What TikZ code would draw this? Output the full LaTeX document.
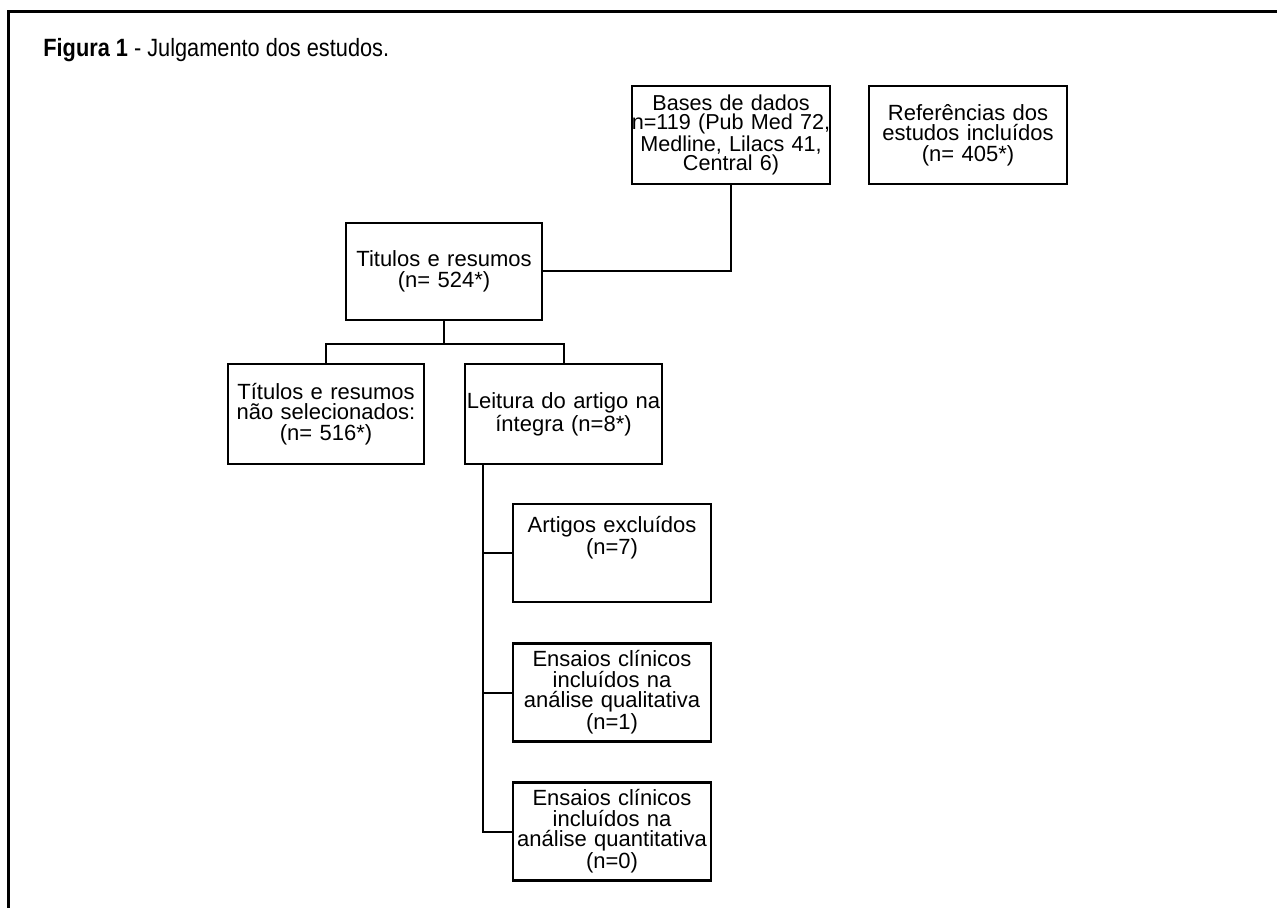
\documentclass[tikz,border=0pt]{standalone}
\usepackage{fontspec}
\setmainfont{Liberation Sans}
\newfontfamily\titlefont[FakeStretch=0.87]{Liberation Sans}
\usepackage{tikz}
\usetikzlibrary{shapes,arrows,positioning}
\newcommand{\flowfont}{\fontsize{11}{10.2}\selectfont}
\tikzstyle{frame} = [line width=1.5pt]
\tikzstyle{process} = [rectangle, draw, line width=1.4pt, text width=98pt, text centered, inner sep=0pt, minimum width=99pt, minimum height=49pt, font=\flowfont]
\tikzstyle{line} = [draw, line width=1pt]

\begin{document}
\begin{tikzpicture}[node distance=70pt, auto]
    \path [use as bounding box] (0,0) rectangle (638.5pt,-454pt);
    \draw [frame] (4.35pt,-454pt) -- (4.35pt,-5.65pt) -- (638.5pt,-5.65pt);
    \node [anchor=base west, inner sep=0pt] (title) at (21.5pt,-28.5pt) {\titlefont\fontsize{12.5}{15}\selectfont\textbf{Figura 1} - Julgamento dos estudos.};

    \node [process, font=\fontsize{10.8}{9.6}\selectfont, text width=104pt, inner xsep=-2.5pt] (bases) at (365.5pt,-67.5pt) {Bases de dados\\n=119 (Pub Med 72,\\Medline, Lilacs 41,\\Central 6)};
    \node [process, right of=bases, node distance=118.5pt] (refs) {Referências dos\\estudos incluídos\\(n= 405*)};
    \node [process, below of=bases, node distance=68.25pt, xshift=-143.5pt, minimum width=98pt, minimum height=48.5pt] (titulos) {Titulos e resumos\\(n= 524*)};
    \node [process, below of=titulos, node distance=71.25pt, xshift=-59pt, minimum width=98pt, minimum height=50pt] (naosel) {Títulos e resumos\\não selecionados:\\(n= 516*)};
    \node [process, below of=titulos, node distance=71.25pt, xshift=59.75pt, minimum width=98.5pt, minimum height=50pt] (leitura) {Leitura do artigo na\\íntegra (n=8*)};
    \node [process, below of=leitura, node distance=69.5pt, xshift=24.25pt, text height=8pt, text depth=29pt] (excl) {Artigos excluídos\\(n=7)};
    \node [process, below of=excl, node distance=69.75pt] (quali) {Ensaios clínicos\\incluídos na\\análise qualitativa\\(n=1)};
    \node [process, below of=quali, node distance=69.5pt] (quanti) {Ensaios clínicos\\incluídos na\\análise quantitativa\\(n=0)};

    \coordinate (trunk) at ([xshift=9.5pt]leitura.south west);

    \path [line] (bases.south) |- (titulos.east);
    \path [line] (titulos.south) -- ++(0,-11.25pt) -| (naosel.north);
    \path [line] (titulos.south) -- ++(0,-11.25pt) -| (leitura.north);
    \path [line] (trunk) |- (excl.west);
    \path [line] (trunk) |- (quali.west);
    \path [line] (trunk) |- (quanti.west);
\end{tikzpicture}
\end{document}
